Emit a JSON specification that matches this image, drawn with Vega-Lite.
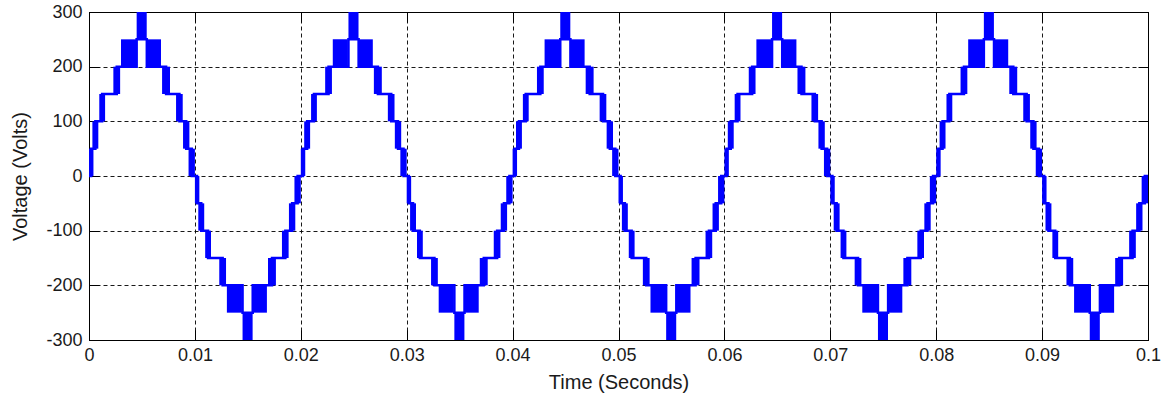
{
  "$schema": "https://vega.github.io/schema/vega-lite/v6.json",
  "width": 1059,
  "height": 328,
  "autosize": {"type": "none"},
  "padding": {"left": 89, "top": 12, "right": 17, "bottom": 59},
  "background": "#ffffff",
  "config": {
    "view": {"stroke": "#000000", "strokeWidth": 1},
    "axis": {
      "domainColor": "#000000",
      "tickColor": "#000000",
      "tickSize": -10,
      "labelFlush": false,
      "labelOverlap": false,
      "labelFont": "Liberation Sans",
      "labelFontSize": 18,
      "labelColor": "#1a1a1a",
      "titleFont": "Liberation Sans",
      "titleFontSize": 20,
      "titleFontWeight": "normal",
      "titleColor": "#1a1a1a",
      "gridColor": "#000000",
      "gridDash": [4, 3],
      "gridOpacity": 0.9,
      "gridWidth": 1
    }
  },
  "datasets": {
    "rects": [
      {"t1":0,"t2":0.00042,"v1":0,"v2":50},
      {"t1":0.00032,"t2":0.00088,"v1":50,"v2":100},
      {"t1":0.00097,"t2":0.00152,"v1":100,"v2":150},
      {"t1":0.0023,"t2":0.00294,"v1":150,"v2":200},
      {"t1":0.00302,"t2":0.00444,"v1":200,"v2":250},
      {"t1":0.0045,"t2":0.00545,"v1":250,"v2":300},
      {"t1":0.00548,"t2":0.0068,"v1":200,"v2":250},
      {"t1":0.0069,"t2":0.00765,"v1":150,"v2":200},
      {"t1":0.00822,"t2":0.00885,"v1":100,"v2":150},
      {"t1":0.00888,"t2":0.00948,"v1":50,"v2":100},
      {"t1":0.0094,"t2":0.01,"v1":0,"v2":50},

      {"t1":0.01,"t2":0.01042,"v1":-50,"v2":0},
      {"t1":0.01032,"t2":0.01088,"v1":-100,"v2":-50},
      {"t1":0.01097,"t2":0.01152,"v1":-150,"v2":-100},
      {"t1":0.0123,"t2":0.01294,"v1":-200,"v2":-150},
      {"t1":0.01302,"t2":0.01444,"v1":-250,"v2":-200},
      {"t1":0.0145,"t2":0.01545,"v1":-300,"v2":-250},
      {"t1":0.01548,"t2":0.0168,"v1":-250,"v2":-200},
      {"t1":0.0169,"t2":0.01765,"v1":-200,"v2":-150},
      {"t1":0.01822,"t2":0.01885,"v1":-150,"v2":-100},
      {"t1":0.01888,"t2":0.01948,"v1":-100,"v2":-50},
      {"t1":0.0194,"t2":0.02,"v1":-50,"v2":0},

      {"t1":0.02,"t2":0.02042,"v1":0,"v2":50},
      {"t1":0.02032,"t2":0.02088,"v1":50,"v2":100},
      {"t1":0.02097,"t2":0.02152,"v1":100,"v2":150},
      {"t1":0.0223,"t2":0.02294,"v1":150,"v2":200},
      {"t1":0.02302,"t2":0.02444,"v1":200,"v2":250},
      {"t1":0.0245,"t2":0.02545,"v1":250,"v2":300},
      {"t1":0.02548,"t2":0.0268,"v1":200,"v2":250},
      {"t1":0.0269,"t2":0.02765,"v1":150,"v2":200},
      {"t1":0.02822,"t2":0.02885,"v1":100,"v2":150},
      {"t1":0.02888,"t2":0.02948,"v1":50,"v2":100},
      {"t1":0.0294,"t2":0.03,"v1":0,"v2":50},

      {"t1":0.03,"t2":0.03042,"v1":-50,"v2":0},
      {"t1":0.03032,"t2":0.03088,"v1":-100,"v2":-50},
      {"t1":0.03097,"t2":0.03152,"v1":-150,"v2":-100},
      {"t1":0.0323,"t2":0.03294,"v1":-200,"v2":-150},
      {"t1":0.03302,"t2":0.03444,"v1":-250,"v2":-200},
      {"t1":0.0345,"t2":0.03545,"v1":-300,"v2":-250},
      {"t1":0.03548,"t2":0.0368,"v1":-250,"v2":-200},
      {"t1":0.0369,"t2":0.03765,"v1":-200,"v2":-150},
      {"t1":0.03822,"t2":0.03885,"v1":-150,"v2":-100},
      {"t1":0.03888,"t2":0.03948,"v1":-100,"v2":-50},
      {"t1":0.0394,"t2":0.04,"v1":-50,"v2":0},

      {"t1":0.04,"t2":0.04042,"v1":0,"v2":50},
      {"t1":0.04032,"t2":0.04088,"v1":50,"v2":100},
      {"t1":0.04097,"t2":0.04152,"v1":100,"v2":150},
      {"t1":0.0423,"t2":0.04294,"v1":150,"v2":200},
      {"t1":0.04302,"t2":0.04444,"v1":200,"v2":250},
      {"t1":0.0445,"t2":0.04545,"v1":250,"v2":300},
      {"t1":0.04548,"t2":0.0468,"v1":200,"v2":250},
      {"t1":0.0469,"t2":0.04765,"v1":150,"v2":200},
      {"t1":0.04822,"t2":0.04885,"v1":100,"v2":150},
      {"t1":0.04888,"t2":0.04948,"v1":50,"v2":100},
      {"t1":0.0494,"t2":0.05,"v1":0,"v2":50},

      {"t1":0.05,"t2":0.05042,"v1":-50,"v2":0},
      {"t1":0.05032,"t2":0.05088,"v1":-100,"v2":-50},
      {"t1":0.05097,"t2":0.05152,"v1":-150,"v2":-100},
      {"t1":0.0523,"t2":0.05294,"v1":-200,"v2":-150},
      {"t1":0.05302,"t2":0.05444,"v1":-250,"v2":-200},
      {"t1":0.0545,"t2":0.05545,"v1":-300,"v2":-250},
      {"t1":0.05548,"t2":0.0568,"v1":-250,"v2":-200},
      {"t1":0.0569,"t2":0.05765,"v1":-200,"v2":-150},
      {"t1":0.05822,"t2":0.05885,"v1":-150,"v2":-100},
      {"t1":0.05888,"t2":0.05948,"v1":-100,"v2":-50},
      {"t1":0.0594,"t2":0.06,"v1":-50,"v2":0},

      {"t1":0.06,"t2":0.06042,"v1":0,"v2":50},
      {"t1":0.06032,"t2":0.06088,"v1":50,"v2":100},
      {"t1":0.06097,"t2":0.06152,"v1":100,"v2":150},
      {"t1":0.0623,"t2":0.06294,"v1":150,"v2":200},
      {"t1":0.06302,"t2":0.06444,"v1":200,"v2":250},
      {"t1":0.0645,"t2":0.06545,"v1":250,"v2":300},
      {"t1":0.06548,"t2":0.0668,"v1":200,"v2":250},
      {"t1":0.0669,"t2":0.06765,"v1":150,"v2":200},
      {"t1":0.06822,"t2":0.06885,"v1":100,"v2":150},
      {"t1":0.06888,"t2":0.06948,"v1":50,"v2":100},
      {"t1":0.0694,"t2":0.07,"v1":0,"v2":50},

      {"t1":0.07,"t2":0.07042,"v1":-50,"v2":0},
      {"t1":0.07032,"t2":0.07088,"v1":-100,"v2":-50},
      {"t1":0.07097,"t2":0.07152,"v1":-150,"v2":-100},
      {"t1":0.0723,"t2":0.07294,"v1":-200,"v2":-150},
      {"t1":0.07302,"t2":0.07444,"v1":-250,"v2":-200},
      {"t1":0.0745,"t2":0.07545,"v1":-300,"v2":-250},
      {"t1":0.07548,"t2":0.0768,"v1":-250,"v2":-200},
      {"t1":0.0769,"t2":0.07765,"v1":-200,"v2":-150},
      {"t1":0.07822,"t2":0.07885,"v1":-150,"v2":-100},
      {"t1":0.07888,"t2":0.07948,"v1":-100,"v2":-50},
      {"t1":0.0794,"t2":0.08,"v1":-50,"v2":0},

      {"t1":0.08,"t2":0.08042,"v1":0,"v2":50},
      {"t1":0.08032,"t2":0.08088,"v1":50,"v2":100},
      {"t1":0.08097,"t2":0.08152,"v1":100,"v2":150},
      {"t1":0.0823,"t2":0.08294,"v1":150,"v2":200},
      {"t1":0.08302,"t2":0.08444,"v1":200,"v2":250},
      {"t1":0.0845,"t2":0.08545,"v1":250,"v2":300},
      {"t1":0.08548,"t2":0.0868,"v1":200,"v2":250},
      {"t1":0.0869,"t2":0.08765,"v1":150,"v2":200},
      {"t1":0.08822,"t2":0.08885,"v1":100,"v2":150},
      {"t1":0.08888,"t2":0.08948,"v1":50,"v2":100},
      {"t1":0.0894,"t2":0.09,"v1":0,"v2":50},

      {"t1":0.09,"t2":0.09042,"v1":-50,"v2":0},
      {"t1":0.09032,"t2":0.09088,"v1":-100,"v2":-50},
      {"t1":0.09097,"t2":0.09152,"v1":-150,"v2":-100},
      {"t1":0.0923,"t2":0.09294,"v1":-200,"v2":-150},
      {"t1":0.09302,"t2":0.09444,"v1":-250,"v2":-200},
      {"t1":0.0945,"t2":0.09545,"v1":-300,"v2":-250},
      {"t1":0.09548,"t2":0.0968,"v1":-250,"v2":-200},
      {"t1":0.0969,"t2":0.09765,"v1":-200,"v2":-150},
      {"t1":0.09822,"t2":0.09885,"v1":-150,"v2":-100},
      {"t1":0.09888,"t2":0.09948,"v1":-100,"v2":-50},
      {"t1":0.0994,"t2":0.1,"v1":-50,"v2":0}
    ],
    "steps": [
      {"t":0,"v":0},
      {"t":0.0002,"v":50},{"t":0.0006,"v":100},{"t":0.00124,"v":150},{"t":0.00262,"v":200},{"t":0.0045,"v":250},{"t":0.00546,"v":200},{"t":0.00728,"v":150},{"t":0.00854,"v":100},{"t":0.00918,"v":50},{"t":0.0097,"v":0},
      {"t":0.0102,"v":-50},{"t":0.0106,"v":-100},{"t":0.01124,"v":-150},{"t":0.01262,"v":-200},{"t":0.0145,"v":-250},{"t":0.01546,"v":-200},{"t":0.01728,"v":-150},{"t":0.01854,"v":-100},{"t":0.01918,"v":-50},{"t":0.0197,"v":0},
      {"t":0.0202,"v":50},{"t":0.0206,"v":100},{"t":0.02124,"v":150},{"t":0.02262,"v":200},{"t":0.0245,"v":250},{"t":0.02546,"v":200},{"t":0.02728,"v":150},{"t":0.02854,"v":100},{"t":0.02918,"v":50},{"t":0.0297,"v":0},
      {"t":0.0302,"v":-50},{"t":0.0306,"v":-100},{"t":0.03124,"v":-150},{"t":0.03262,"v":-200},{"t":0.0345,"v":-250},{"t":0.03546,"v":-200},{"t":0.03728,"v":-150},{"t":0.03854,"v":-100},{"t":0.03918,"v":-50},{"t":0.0397,"v":0},
      {"t":0.0402,"v":50},{"t":0.0406,"v":100},{"t":0.04124,"v":150},{"t":0.04262,"v":200},{"t":0.0445,"v":250},{"t":0.04546,"v":200},{"t":0.04728,"v":150},{"t":0.04854,"v":100},{"t":0.04918,"v":50},{"t":0.0497,"v":0},
      {"t":0.0502,"v":-50},{"t":0.0506,"v":-100},{"t":0.05124,"v":-150},{"t":0.05262,"v":-200},{"t":0.0545,"v":-250},{"t":0.05546,"v":-200},{"t":0.05728,"v":-150},{"t":0.05854,"v":-100},{"t":0.05918,"v":-50},{"t":0.0597,"v":0},
      {"t":0.0602,"v":50},{"t":0.0606,"v":100},{"t":0.06124,"v":150},{"t":0.06262,"v":200},{"t":0.0645,"v":250},{"t":0.06546,"v":200},{"t":0.06728,"v":150},{"t":0.06854,"v":100},{"t":0.06918,"v":50},{"t":0.0697,"v":0},
      {"t":0.0702,"v":-50},{"t":0.0706,"v":-100},{"t":0.07124,"v":-150},{"t":0.07262,"v":-200},{"t":0.0745,"v":-250},{"t":0.07546,"v":-200},{"t":0.07728,"v":-150},{"t":0.07854,"v":-100},{"t":0.07918,"v":-50},{"t":0.0797,"v":0},
      {"t":0.0802,"v":50},{"t":0.0806,"v":100},{"t":0.08124,"v":150},{"t":0.08262,"v":200},{"t":0.0845,"v":250},{"t":0.08546,"v":200},{"t":0.08728,"v":150},{"t":0.08854,"v":100},{"t":0.08918,"v":50},{"t":0.0897,"v":0},
      {"t":0.0902,"v":-50},{"t":0.0906,"v":-100},{"t":0.09124,"v":-150},{"t":0.09262,"v":-200},{"t":0.0945,"v":-250},{"t":0.09546,"v":-200},{"t":0.09728,"v":-150},{"t":0.09854,"v":-100},{"t":0.09918,"v":-50},{"t":0.0997,"v":0},
      {"t":0.1,"v":0}
    ]
  },
  "layer": [
    {
      "data": {"name": "steps"},
      "mark": {"type": "line", "interpolate": "step-after", "color": "#0000ff", "strokeWidth": 2.5, "clip": true},
      "encoding": {
        "x": {
          "field": "t", "type": "quantitative",
          "scale": {"domain": [0, 0.1], "nice": false, "zero": false},
          "axis": {
            "orient": "bottom",
            "values": [0, 0.01, 0.02, 0.03, 0.04, 0.05, 0.06, 0.07, 0.08, 0.09, 0.1],
            "labelExpr": "'' + datum.value",
            "grid": true,
            "labelPadding": 16,
            "titlePadding": 8,
            "title": "Time (Seconds)"
          }
        },
        "y": {
          "field": "v", "type": "quantitative",
          "scale": {"domain": [-300, 300], "nice": false},
          "axis": {
            "orient": "left",
            "values": [-300, -200, -100, 0, 100, 200, 300],
            "labelExpr": "'' + datum.value",
            "grid": true,
            "labelPadding": 17,
            "titlePadding": 15,
            "title": "Voltage (Volts)"
          }
        }
      }
    },
    {
      "data": {"name": "rects"},
      "mark": {"type": "rect", "color": "#0000ff", "clip": true},
      "encoding": {
        "x": {
          "field": "t1", "type": "quantitative",
          "axis": {
            "orient": "top",
            "values": [0, 0.01, 0.02, 0.03, 0.04, 0.05, 0.06, 0.07, 0.08, 0.09, 0.1],
            "labels": false, "grid": false, "title": null
          }
        },
        "x2": {"field": "t2"},
        "y": {
          "field": "v1", "type": "quantitative",
          "axis": {
            "orient": "right",
            "values": [-300, -200, -100, 0, 100, 200, 300],
            "labels": false, "grid": false, "title": null
          }
        },
        "y2": {"field": "v2"}
      }
    }
  ],
  "resolve": {"axis": {"x": "independent", "y": "independent"}}
}
